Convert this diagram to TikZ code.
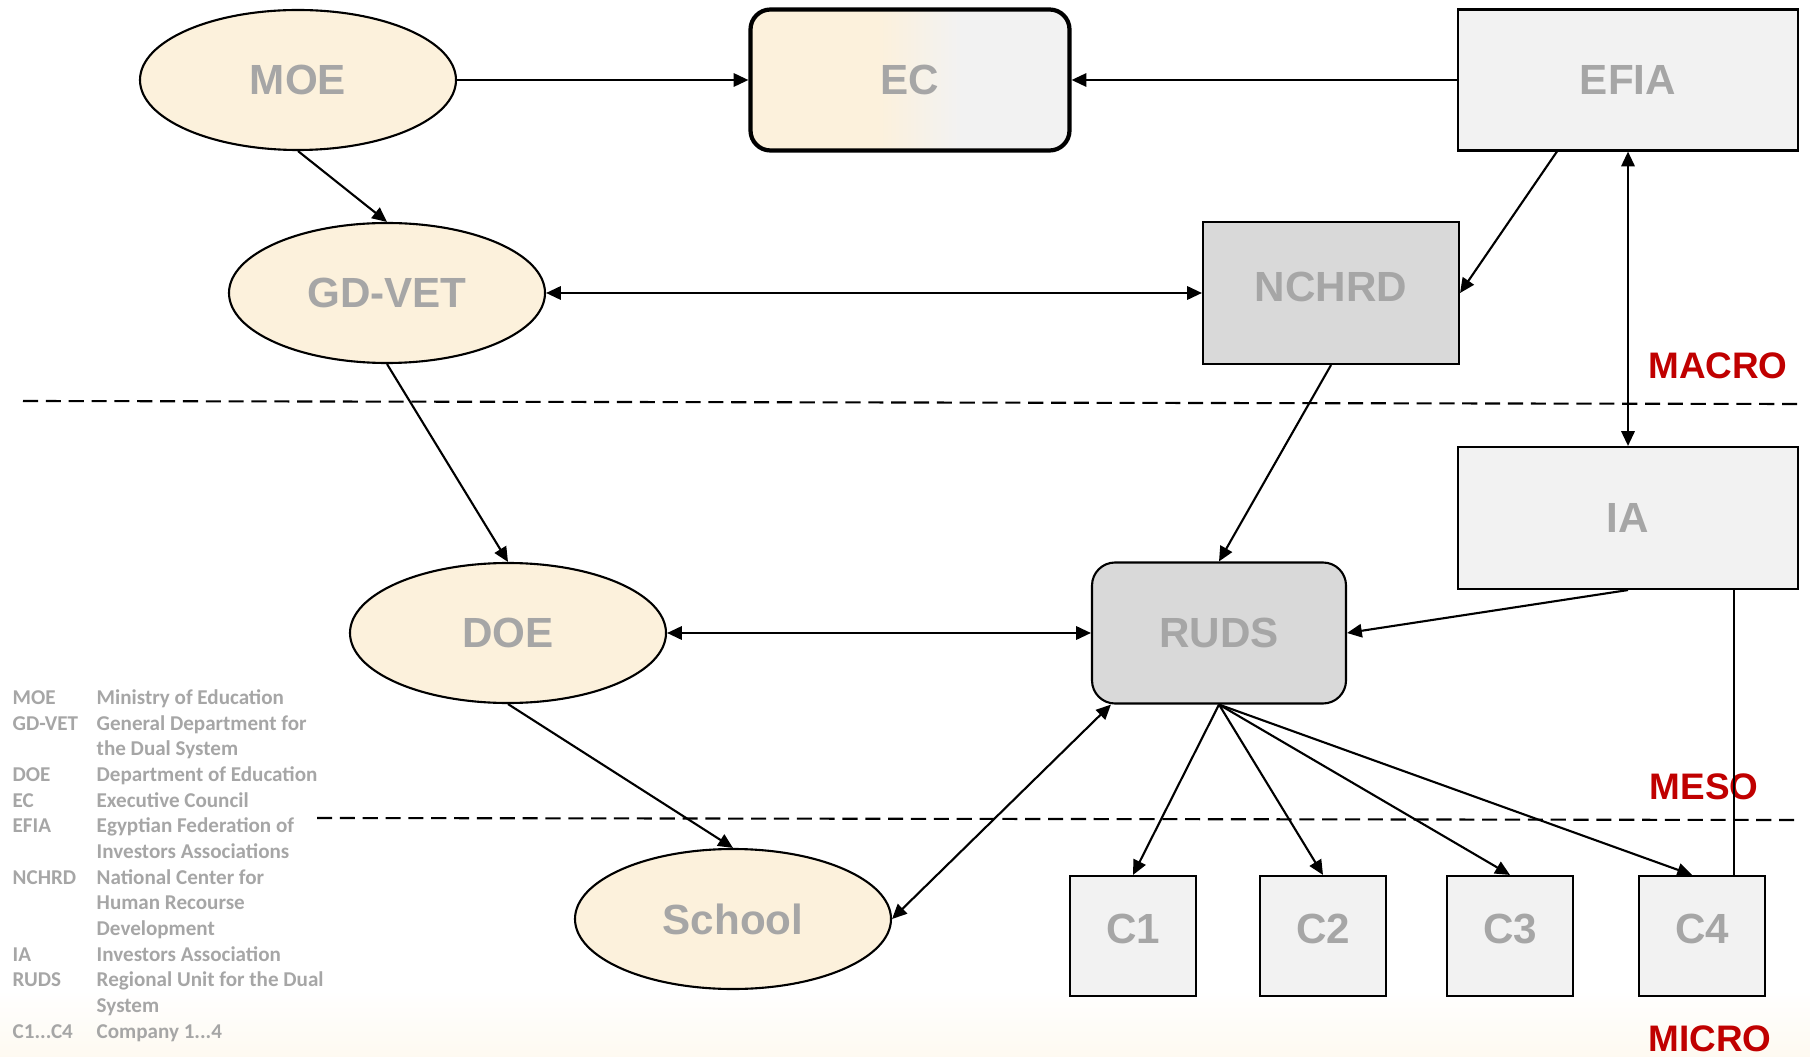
\documentclass[tikz,border=0pt]{standalone}
\usepackage{fontspec}
\setmainfont{Liberation Sans}
\newfontfamily\legendafont{Carlito}
\usetikzlibrary{shapes.geometric,arrows.meta}
\definecolor{beige}{HTML}{FCF1DC}
\definecolor{grigio}{HTML}{F2F2F2}
\definecolor{grigioscuro}{HTML}{D9D9D9}
\definecolor{testo}{HTML}{A6A6A6}
\definecolor{rosso}{HTML}{C00000}
\pgfdeclarehorizontalshading{sfumaturaec}{100bp}{color(0bp)=(beige); color(25bp)=(beige); color(45bp)=(beige); color(58bp)=(grigio); color(100bp)=(grigio)}
\begin{document}
\begin{tikzpicture}[
        etichetta/.style={text=testo, font=\bfseries\fontsize{12}{14}\selectfont},
        ente/.style={ellipse, draw, line width=0.6pt, fill=beige, minimum width=3.16cm, minimum height=1.40cm, etichetta},
        scatola/.style={rectangle, draw, line width=0.6pt, fill=grigio, etichetta},
        azienda/.style={scatola, minimum width=1.26cm, minimum height=1.20cm, text depth=0.14cm},
        livello/.style={text=rosso, font=\bfseries\fontsize{10.5}{12}\selectfont},
        freccia/.style={line width=0.6pt, -{Triangle[length=4.2pt,width=3.8pt]}},
        doppia/.style={line width=0.6pt, {Triangle[length=4.2pt,width=3.8pt]}-{Triangle[length=4.2pt,width=3.8pt]}},
        barra/.style={line width=0.6pt, dash pattern=on 4.3pt off 2.2pt}
    ]
        \useasboundingbox (0,0) rectangle (18.10,-10.57);
        \fill[top color=white, bottom color=beige!40] (0,-9.9) rectangle (18.10,-10.57);

        %%%%%%%%% Ellissi %%%%%%%%%
        \node[ente] (moe) at (2.98,-0.80) {MOE};
        \node[ente] (gdvet) at (3.87,-2.93) {GD-VET};
        \node[ente] (doe) at (5.08,-6.33) {DOE};
        \node[ente] (school) at (7.33,-9.19) {School};

        %%%%%%%% Rettangoli %%%%%%%%
        \node[scatola, rounded corners=0.2cm, line width=1.2pt, shading=sfumaturaec, minimum width=3.19cm, minimum height=1.41cm] (ec) at (9.10,-0.80) {EC};
        \node[scatola, minimum width=3.40cm, minimum height=1.41cm] (efia) at (16.28,-0.80) {EFIA};
        \node[scatola, fill=grigioscuro, minimum width=2.56cm, minimum height=1.42cm, text depth=0.12cm] (nchrd) at (13.31,-2.93) {NCHRD};
        \node[scatola, minimum width=3.40cm, minimum height=1.42cm] (ia) at (16.28,-5.18) {IA};
        \node[scatola, fill=grigioscuro, rounded corners=0.23cm, minimum width=2.54cm, minimum height=1.41cm] (ruds) at (12.19,-6.33) {RUDS};
        \node[azienda] (c1) at (11.33,-9.36) {C1};
        \node[azienda] (c2) at (13.23,-9.36) {C2};
        \node[azienda] (c3) at (15.10,-9.36) {C3};
        \node[azienda] (c4) at (17.02,-9.36) {C4};

        %%%%%%%%% Livelli %%%%%%%%%
        \draw[barra] (0.23,-4.01) -- (17.98,-4.04);
        \draw[barra] (3.17,-8.18) -- (17.98,-8.20);
        \node[livello] (macro) at (17.18,-3.66) {MACRO};
        \node[livello] (meso) at (17.04,-7.87) {MESO};
        \node[livello] (micro) at (17.10,-10.39) {MICRO};

        %%%%%%%%% Frecce %%%%%%%%%
        \draw[freccia] (moe) -- (ec);
        \draw[freccia] (efia) -- (ec);
        \draw[freccia] (moe.south) -- (gdvet.north);
        \draw[freccia] ([xshift=1cm]efia.south west) -- (nchrd.east);
        \draw[doppia] (gdvet) -- (nchrd);
        \draw[doppia] (efia.south) -- (ia.north);
        \draw[freccia] (gdvet.south) -- (doe.north);
        \draw[freccia] (nchrd.south) -- (ruds.north);
        \draw[freccia] (ia.south) -- (ruds.east);
        \draw[doppia] (doe) -- (ruds);
        \draw[freccia] (doe.south) -- (school.north);
        \draw[doppia] (school.east) -- ([xshift=0.2cm]ruds.south west);
        \draw[freccia] (ruds.south) -- (c1.north);
        \draw[freccia] (ruds.south) -- (c2.north);
        \draw[freccia] (ruds.south) -- (c3.north);
        \draw[freccia] (ruds.south) -- ([xshift=-0.1cm]c4.north);
        \draw[line width=0.6pt] ([xshift=0.32cm]c4.north) -- ([xshift=0.32cm]c4.north |- ia.south);

        %%%%%%%% Legenda %%%%%%%%%
        \node[anchor=north west, inner sep=0pt, text=testo, font=\legendafont\bfseries\fontsize{6}{7.3}\selectfont] (legenda) at (0.12,-6.86) {%
            \begin{tabular}{@{}p{0.84cm}@{}l@{}}
                MOE & Ministry of Education\\
                GD-VET & General Department for\\
                 & the Dual System\\
                DOE & Department of Education\\
                EC & Executive Council\\
                EFIA & Egyptian Federation of\\
                 & Investors Associations\\
                NCHRD & National Center for\\
                 & Human Recourse\\
                 & Development\\
                IA & Investors Association\\
                RUDS & Regional Unit for the Dual\\
                 & System\\
                C1...C4 & Company 1...4
            \end{tabular}};
    \end{tikzpicture}
\end{document}
